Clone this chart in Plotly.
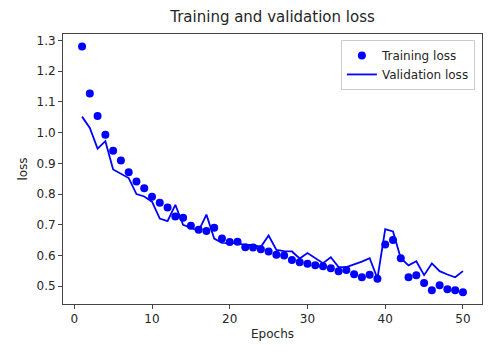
import plotly.graph_objects as go

epochs = list(range(1, 51))

training_loss = [
    1.280, 1.127, 1.054, 0.993, 0.941, 0.909, 0.871, 0.841, 0.819, 0.791,
    0.772, 0.756, 0.727, 0.723, 0.697, 0.684, 0.680, 0.690, 0.655, 0.644,
    0.645, 0.627, 0.626, 0.620, 0.613, 0.602, 0.600, 0.585, 0.578, 0.573,
    0.568, 0.565, 0.558, 0.549, 0.553, 0.539, 0.529, 0.537, 0.524, 0.636,
    0.650, 0.591, 0.529, 0.536, 0.510, 0.487, 0.503, 0.490, 0.487, 0.480,
]

validation_loss = [
    1.052, 1.015, 0.948, 0.972, 0.880, 0.866, 0.852, 0.800, 0.792, 0.775,
    0.720, 0.712, 0.765, 0.700, 0.690, 0.680, 0.733, 0.655, 0.641, 0.640,
    0.640, 0.634, 0.634, 0.628, 0.665, 0.618, 0.614, 0.613, 0.590, 0.608,
    0.590, 0.575, 0.594, 0.562, 0.562, 0.570, 0.580, 0.591, 0.525, 0.686,
    0.678, 0.591, 0.568, 0.581, 0.536, 0.574, 0.549, 0.538, 0.529, 0.549,
]

title_text = "Training and validation loss"
x_label = "Epochs"
y_label = "loss"

fig = go.Figure()
fig.add_trace(go.Scatter(
    x=epochs, y=training_loss, mode="markers", name="Training loss",
    marker=dict(color="#0000ff", size=8, line=dict(width=0)),
))
fig.add_trace(go.Scatter(
    x=epochs, y=validation_loss, mode="lines", name="Validation loss",
    line=dict(color="#0000ff", width=1.8),
))

font_family = "DejaVu Sans"
text_color = "#262626"
axis_common = dict(
    showgrid=False, zeroline=False, showline=True, linecolor="#444444",
    linewidth=1, mirror=True, ticks="outside", ticklen=4, tickwidth=1,
    tickcolor="#444444", tickfont=dict(family=font_family, size=12, color=text_color),
)

fig.update_layout(
    width=503, height=351,
    margin=dict(l=63, r=21, t=34, b=45),
    paper_bgcolor="white", plot_bgcolor="white",
    title=dict(text=title_text, x=0.5, xref="paper", xanchor="center",
               y=1 - 17 / 351, yref="container", yanchor="middle",
               font=dict(family=font_family, size=15, color=text_color)),
    xaxis=dict(range=[-1.45, 52.45], tickvals=[0, 10, 20, 30, 40, 50],
               title=dict(text=x_label, font=dict(family=font_family, size=12, color=text_color),
                          standoff=4),
               **axis_common),
    yaxis=dict(range=[0.442, 1.321], tickvals=[0.5, 0.6, 0.7, 0.8, 0.9, 1.0, 1.1, 1.2, 1.3],
               tickformat=".1f",
               title=dict(text=y_label, font=dict(family=font_family, size=12, color=text_color),
                          standoff=6),
               **axis_common),
    showlegend=True,
    legend=dict(x=0.983, y=0.978, xanchor="right", yanchor="top",
                bordercolor="#cccccc", borderwidth=1, bgcolor="rgba(255,255,255,0.8)",
                font=dict(family=font_family, size=12, color=text_color),
                itemwidth=30, tracegroupgap=0),
)

fig.write_html("out.html")
